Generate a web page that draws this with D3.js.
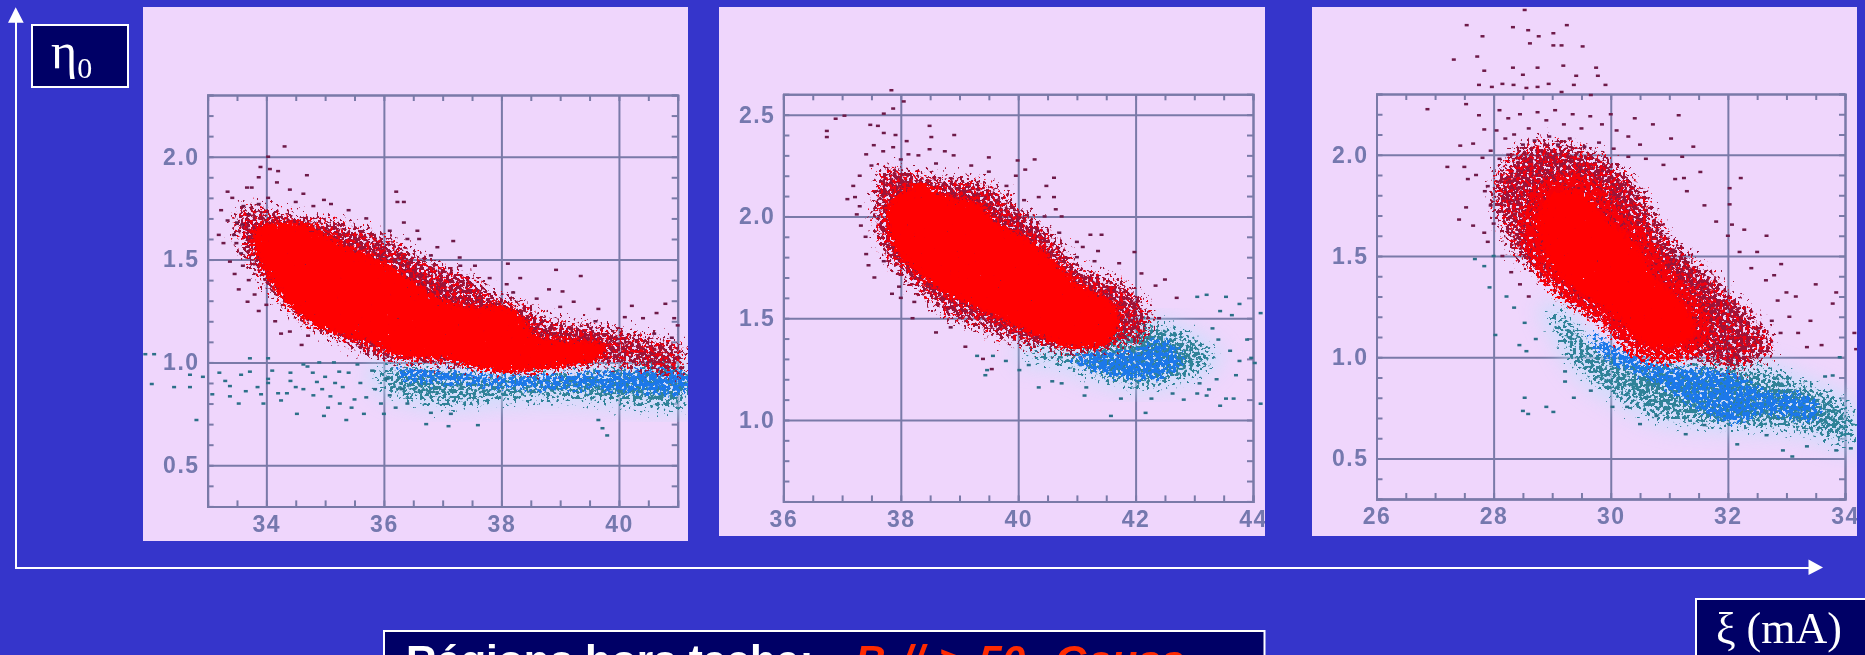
<!DOCTYPE html>
<html>
<head>
<meta charset="utf-8">
<script src="https://cdn.jsdelivr.net/npm/d3@7"></script>
<style>
  html, body { margin: 0; padding: 0; background: #3535cb; overflow: hidden; }
  svg { display: block; }
  text { white-space: pre; }
  .tick-label text { font-family: "Liberation Sans", sans-serif; font-weight: bold; font-size: 23px; letter-spacing: 1.5px; fill: #7478ae; }
</style>
</head>
<body>
<div id="chart"></div>
<script>
// values, x in mA, y is eta0
var p1XTicks = [34, 36, 38, 40];
var p1YTicks = [0.5, 1.0, 1.5, 2.0];
var p1RedCore = [[33.76,1.65],[34.18,1.68],[34.63,1.68],[35.09,1.615],[35.55,1.545],[36.0,1.49],[36.46,1.405],[36.91,1.32],[37.52,1.27],[38.0,1.285],[38.43,1.2],[38.58,1.13],[39.27,1.11],[39.8,1.085],[39.65,1.01],[38.9,0.975],[38.43,0.955],[37.83,0.955],[37.07,1.01],[36.3,1.025],[35.7,1.095],[35.24,1.13],[34.79,1.18],[34.4,1.27],[34.03,1.41],[33.8,1.545]];
var p1RedFringe = [[33.3,1.72],[33.61,1.79],[33.95,1.79],[34.48,1.745],[34.94,1.735],[35.47,1.7],[36.0,1.65],[36.53,1.56],[37.07,1.49],[37.6,1.44],[37.9,1.355],[38.43,1.32],[38.81,1.235],[39.42,1.225],[40.1,1.18],[41.18,1.095],[41.18,0.905],[40.1,0.955],[39.35,0.955],[38.5,0.93],[37.83,0.945],[37.07,0.955],[36.15,0.975],[35.55,1.025],[35.0,1.11],[34.63,1.165],[34.25,1.25],[33.8,1.39],[33.49,1.53],[33.34,1.63]];
var p1BlueBand = [[35.9,1.02],[36.3,1.0],[37,1.0],[38,0.96],[39,0.98],[40,1.0],[41.2,1.0],[41.2,0.76],[40,0.77],[39,0.79],[38,0.78],[37,0.76],[36.3,0.8],[35.9,0.85],[35.7,0.93]];
var p1BlueCore = [[36.2,0.99],[37,0.98],[38,0.96],[39,0.96],[40,0.98],[41.2,0.97],[41.2,0.84],[40.4,0.83],[39.5,0.85],[38.5,0.85],[37.5,0.87],[36.7,0.88],[36.2,0.91]];
var p1RedPoints = [[34.31,2.05],[34.03,2.0],[33.9,1.95],[34.06,1.94],[34.2,1.93],[34.69,1.91],[33.87,1.9],[34.18,1.875],[33.67,1.85],[33.34,1.83],[33.42,1.8],[33.75,1.85],[34.4,1.84],[34.63,1.82],[34.98,1.79],[34.03,1.8],[33.23,1.74],[33.61,1.76],[33.87,1.77],[33.34,1.69],[33.19,1.62],[33.27,1.58],[33.49,1.58],[33.57,1.53],[33.38,1.49],[33.46,1.43],[33.53,1.355],[33.68,1.295],[33.87,1.25],[34.25,1.14],[34.71,1.13],[34.6,1.085],[36.21,1.83],[36.34,1.78],[36.23,1.78],[36.34,1.68],[36.57,1.64],[36.6,1.6],[37.18,1.59],[36.91,1.56],[37.29,1.51],[37.55,1.47],[38.11,1.48],[38.93,1.45],[39.35,1.42],[38.32,1.41],[38.09,1.38],[38.81,1.355],[39.23,1.295],[39.04,1.345],[39.65,1.26],[40.22,1.275],[40.79,1.285],[40.64,1.24],[40.41,1.215],[40.94,1.215],[41.0,1.18]];
var p1RedEdge = [[33.6,1.67],[33.7,1.72],[33.5,1.68],[33.45,1.62],[33.6,1.47],[33.7,1.4],[33.8,1.33],[34.0,1.28],[34.15,1.2],[34.4,1.15],[34.5,1.78],[34.8,1.76],[35.1,1.77],[35.4,1.74],[35.7,1.7],[36.1,1.64],[36.4,1.6],[36.8,1.52],[37.3,1.47],[37.8,1.41],[38.2,1.34],[38.6,1.31],[39.0,1.27],[39.6,1.2],[40.1,1.22],[40.6,1.14],[40.9,1.12]];
var p1BluePoints = [[31.94,1.04],[32.09,1.04],[32.05,0.895],[32.43,0.88],[32.7,0.88],[32.81,0.72],[32.7,0.94],[32.92,0.93],[33.08,0.845],[33.3,0.91],[33.38,0.885],[33.57,0.94],[33.53,0.8],[33.38,0.835],[33.72,0.955],[33.72,1.02],[34.03,1.02],[34.03,0.92],[34.03,0.9],[33.91,0.845],[33.95,0.8],[34.2,0.85],[34.25,0.815],[34.52,0.75],[34.41,0.95],[34.63,0.99],[34.41,0.91],[34.79,0.95],[34.86,0.905],[34.63,0.87],[34.98,0.74],[35.36,0.72],[35.24,0.955],[35.17,0.9],[35.09,0.835],[35.05,0.78],[35.66,0.75],[36.0,0.75],[36.72,0.7],[37.1,0.69],[37.6,0.695],[37.14,0.75],[36.8,0.755],[39.72,0.68],[39.8,0.645],[39.65,0.72],[34.5,0.88],[34.7,0.98],[34.9,1.0],[35.0,0.93],[35.15,1.0],[35.3,0.88],[35.4,0.95],[35.5,0.82],[35.55,0.99],[35.6,0.9],[35.7,0.83],[35.8,0.96],[35.85,0.87],[35.95,0.8],[36.05,0.92],[36.1,0.84],[36.2,0.78],[36.3,0.87],[36.4,0.8],[34.8,0.84],[34.95,0.87],[35.25,0.8],[35.45,0.78],[34.35,0.85],[34.1,0.96],[33.85,0.88],[33.65,0.86],[33.2,0.95]];

var p2XTicks = [36, 38, 40, 42, 44];
var p2YTicks = [1.0, 1.5, 2.0, 2.5];
var p2RedCore = [[37.77,2.06],[38.03,2.13],[38.36,2.165],[38.82,2.095],[39.27,2.08],[39.66,1.97],[40.12,1.9],[40.64,1.78],[41.03,1.675],[41.49,1.605],[41.75,1.52],[41.55,1.375],[41.1,1.35],[40.77,1.36],[40.32,1.41],[39.79,1.48],[39.27,1.55],[38.75,1.62],[38.23,1.73],[37.84,1.87]];
var p2RedFringe = [[37.45,2.15],[37.58,2.28],[38.23,2.25],[38.75,2.22],[39.27,2.22],[39.73,2.15],[40.25,2.03],[40.77,1.9],[41.1,1.76],[41.49,1.745],[41.95,1.675],[42.34,1.55],[42.27,1.38],[41.75,1.33],[41.42,1.31],[40.77,1.31],[39.99,1.34],[39.4,1.41],[38.75,1.48],[38.1,1.64],[37.64,1.78],[37.45,1.94]];
var p2BlueBand = [[39.99,1.38],[41.1,1.38],[41.95,1.5],[42.5,1.5],[43.12,1.42],[43.5,1.32],[43.25,1.22],[42.6,1.15],[41.95,1.13],[41.3,1.18],[40.58,1.25],[40.05,1.27]];
var p2BlueCore = [[40.77,1.31],[41.3,1.36],[41.95,1.36],[42.4,1.42],[42.86,1.34],[42.79,1.24],[42.27,1.18],[41.49,1.2],[40.97,1.255]];
var p2RedPoints = [[37.84,2.62],[38.05,2.565],[37.87,2.53],[37.04,2.495],[36.89,2.48],[36.74,2.42],[36.74,2.39],[37.48,2.45],[37.71,2.505],[37.61,2.445],[37.71,2.41],[37.91,2.4],[38.1,2.37],[38.49,2.445],[38.52,2.39],[38.91,2.4],[37.54,2.35],[37.41,2.305],[37.87,2.34],[38.13,2.305],[38.49,2.33],[38.75,2.32],[39.5,2.29],[39.99,2.275],[40.28,2.28],[39.96,2.2],[40.12,2.23],[40.61,2.19],[40.48,2.15],[40.61,2.095],[40.35,2.095],[40.64,2.035],[40.74,2.0],[37.19,2.15],[37.22,2.095],[37.09,2.085],[37.25,2.01],[37.32,1.955],[37.41,1.815],[37.45,1.76],[37.71,1.78],[37.97,1.655],[38.0,1.6],[38.23,1.58],[38.85,1.455],[41.23,1.91],[41.42,1.91],[41.0,1.875],[41.36,1.83],[41.98,1.825],[41.72,1.77],[41.1,1.85],[42.5,1.69],[42.7,1.6],[42.34,1.66]];
var p2RedEdge = [[37.3,2.2],[37.5,2.25],[37.7,2.32],[38.0,2.28],[38.3,2.3],[38.6,2.26],[38.9,2.3],[39.2,2.25],[39.5,2.22],[39.8,2.15],[40.1,2.08],[40.45,2.0],[40.7,1.92],[41.0,1.8],[41.3,1.78],[37.3,2.05],[37.4,1.9],[37.55,1.7],[37.85,1.62],[38.2,1.5],[38.6,1.43],[39.1,1.36],[39.4,1.3],[39.55,1.25],[42.1,1.72],[42.4,1.5]];
var p2BluePoints = [[39.3,1.315],[39.57,1.315],[39.47,1.245],[39.44,1.22],[39.79,1.29],[40.18,1.27],[40.02,1.245],[40.35,1.16],[40.58,1.19],[40.74,1.18],[41.16,1.16],[41.13,1.12],[41.58,1.02],[42.17,1.035],[41.75,1.105],[42.27,1.105],[42.63,1.13],[42.82,1.1],[43.05,1.13],[43.21,1.12],[43.44,1.07],[43.54,1.105],[43.67,1.105],[44.13,1.08],[44.13,1.525],[43.77,1.57],[43.54,1.605],[43.21,1.615],[43.05,1.605],[43.64,1.515],[43.44,1.535],[43.31,1.45],[43.9,1.395],[43.61,1.34],[43.77,1.29],[44.03,1.28],[43.38,1.2],[43.71,1.22],[43.25,1.15],[43.09,1.18],[43.41,1.395],[43.97,1.305]];

var p3XTicks = [26, 28, 30, 32, 34];
var p3YTicks = [0.5, 1.0, 1.5, 2.0];
var p3RedCore = [[28.72,1.7],[28.97,1.81],[29.53,1.83],[29.91,1.7],[30.47,1.56],[30.78,1.4],[31.28,1.26],[31.47,1.12],[30.97,1.04],[30.47,1.07],[30.03,1.21],[29.53,1.3],[29.03,1.42],[28.78,1.56]];
var p3RedFringe = [[27.85,1.85],[28.3,2.05],[28.9,2.1],[29.72,2.05],[30.16,1.98],[30.6,1.85],[31.0,1.65],[31.5,1.5],[32.1,1.35],[32.6,1.2],[33.0,1.03],[32.66,0.98],[32.22,0.9],[31.41,0.965],[30.47,1.0],[29.84,1.14],[29.22,1.26],[28.84,1.35],[28.3,1.475],[28.0,1.67]];
var p3BlueBand = [[28.78,1.26],[29.28,1.25],[29.84,1.07],[30.78,1.0],[31.91,1.0],[32.66,0.98],[33.41,0.895],[34.2,0.77],[34.2,0.54],[33.29,0.6],[32.6,0.615],[31.72,0.63],[30.78,0.665],[30.03,0.77],[29.41,0.895],[29.03,1.07]];
var p3BlueCore = [[29.53,1.14],[30.16,1.07],[30.92,0.98],[32.03,0.95],[32.6,0.86],[33.54,0.81],[33.6,0.67],[32.66,0.7],[32.0,0.65],[31.22,0.77],[30.47,0.895],[29.84,0.98]];
var p3RedPoints = [[28.53,2.715],[27.54,2.64],[27.81,2.585],[28.33,2.63],[28.59,2.615],[28.77,2.585],[29.02,2.6],[29.25,2.64],[28.62,2.55],[29.02,2.54],[29.16,2.54],[29.52,2.535],[27.32,2.47],[27.72,2.485],[27.84,2.415],[28.33,2.43],[28.5,2.395],[28.75,2.43],[29.19,2.44],[29.75,2.43],[29.41,2.39],[29.78,2.39],[27.75,2.345],[27.97,2.335],[28.15,2.35],[28.34,2.345],[28.56,2.33],[28.75,2.335],[28.94,2.35],[29.37,2.345],[29.91,2.345],[29.16,2.31],[29.66,2.295],[27.53,2.25],[26.87,2.225],[27.75,2.195],[27.84,2.125],[27.43,2.045],[27.65,2.055],[27.21,1.94],[27.5,1.94],[27.56,1.88],[27.81,1.985],[27.9,1.845],[27.53,1.74],[27.41,1.68],[27.65,1.65],[27.84,1.615],[30.72,2.15],[31.03,2.08],[31.41,2.04],[31.22,1.99],[31.53,1.915],[31.25,1.885],[32.22,1.885],[32.03,1.835],[32.03,1.755],[32.07,1.655],[32.66,1.6],[32.28,1.63],[32.5,1.52],[32.91,1.46],[33.5,1.36],[33.85,1.32],[33.79,1.265],[33.41,1.18],[33.6,1.06],[34.16,1.12],[34.19,1.04],[33.16,1.3],[32.79,1.405],[33.0,1.32],[31.16,2.195],[30.41,2.18]];
var p3RedEdge = [[28.1,2.22],[28.25,2.18],[28.45,2.2],[28.6,2.13],[28.75,2.21],[28.9,2.17],[29.05,2.22],[29.2,2.15],[29.35,2.2],[29.5,2.13],[29.65,2.19],[29.85,2.15],[30.0,2.2],[30.1,2.12],[30.3,2.09],[30.5,2.05],[28.05,2.12],[28.2,2.08],[28.35,2.1],[28.5,2.05],[28.7,2.07],[28.95,2.09],[29.1,2.05],[29.3,2.08],[29.55,2.04],[29.8,2.06],[30.05,2.03],[30.3,1.99],[30.6,1.98],[30.9,1.95],[27.95,2.02],[28.1,1.98],[28.25,2.0],[27.7,1.9],[27.85,1.82],[27.95,1.75],[28.0,1.66],[27.9,1.57],[28.15,1.5],[28.3,1.42],[28.45,1.36],[28.6,1.3],[31.1,1.88],[31.3,1.82],[31.6,1.75],[31.8,1.67],[32.0,1.6],[32.2,1.52],[32.4,1.44],[32.65,1.38],[32.85,1.28],[33.05,1.2],[33.2,1.12],[33.35,1.05],[32.9,1.12],[32.75,1.18]];
var p3BluePoints = [[28.0,1.5],[27.84,1.45],[27.68,1.485],[27.93,1.345],[28.03,1.11],[28.44,1.06],[28.56,1.03],[28.53,0.8],[28.5,0.735],[28.59,0.72],[28.9,0.755],[29.02,0.73],[29.37,0.8],[28.22,1.3],[28.35,1.245],[28.53,1.17],[28.72,1.09],[29.22,0.93],[29.22,0.88],[29.66,0.835],[30.03,0.755],[30.28,0.755],[30.5,0.67],[30.78,0.71],[31.28,0.62],[31.6,0.665],[32.16,0.57],[32.66,0.615],[32.94,0.54],[33.1,0.51],[33.35,0.56],[33.85,0.54],[34.1,0.55],[33.79,0.91],[33.91,1.0],[33.66,0.905]];

var yLabel = "\u03b7";
var xLabel = "\u03be (mA)";
var noteWhite = "R\u00e9gions hors tache:";
var noteRed = "B // > 50  Gauss";

var panels = [
  { box: [143, 7, 688, 541], frame: [207.6, 95, 677.7, 506.4], xDom: [33, 41], yDom: [0.3, 2.3], xTicks: p1XTicks, yTicks: p1YTicks,
    core: p1RedCore, fringe: p1RedFringe, band: p1BlueBand, bandCore: p1BlueCore, red: p1RedPoints.concat(p1RedEdge), blue: p1BluePoints, halo: 12 },
  { box: [719, 7, 1265, 536], frame: [783.4, 94.3, 1253, 501.4], xDom: [36, 44], yDom: [0.6, 2.6], xTicks: p2XTicks, yTicks: p2YTicks,
    core: p2RedCore, fringe: p2RedFringe, band: p2BlueBand, bandCore: p2BlueCore, red: p2RedPoints.concat(p2RedEdge), blue: p2BluePoints, halo: 12 },
  { box: [1312, 7, 1857, 536], frame: [1376.5, 94, 1845, 499], xDom: [26, 34], yDom: [0.3, 2.3], xTicks: p3XTicks, yTicks: p3YTicks,
    core: p3RedCore, fringe: p3RedFringe, band: p3BlueBand, bandCore: p3BlueCore, red: p3RedPoints.concat(p3RedEdge), blue: p3BluePoints, halo: 40 }
];

var svg = d3.select("#chart").append("svg")
  .attr("width", 1865)
  .attr("height", 655);
var defs = svg.append("defs");

// the dense clouds are outlines dissolved into grains, the grain is only texture
var addGrain = function(id, color, blur, k3, seed) {
  var f = defs.append("filter").attr("id", id)
    .attr("filterUnits", "userSpaceOnUse")
    .attr("x", 0).attr("y", 0).attr("width", 1865).attr("height", 655)
    .attr("color-interpolation-filters", "sRGB");
  f.append("feTurbulence").attr("type", "fractalNoise").attr("baseFrequency", 0.3)
    .attr("numOctaves", 2).attr("seed", seed).attr("result", "noise");
  f.append("feColorMatrix").attr("in", "noise").attr("type", "matrix")
    .attr("values", "0 0 0 0 0  0 0 0 0 0  0 0 0 0 0  1 0 0 0 0").attr("result", "n");
  f.append("feGaussianBlur").attr("in", "SourceAlpha").attr("stdDeviation", blur).attr("result", "b");
  f.append("feComposite").attr("in", "n").attr("in2", "b").attr("operator", "arithmetic")
    .attr("k1", 0).attr("k2", 18).attr("k3", k3).attr("k4", -18).attr("result", "mask");
  f.append("feFlood").attr("flood-color", color).attr("result", "c");
  f.append("feComposite").attr("in", "c").attr("in2", "mask").attr("operator", "in");
};
addGrain("grainDarkRed", "#9c1438", 12, 11.5, 3);
addGrain("grainRed", "#ee0010", 10, 8.5, 8);
addGrain("grainRedDense", "#f60008", 7, 11, 21);
addGrain("grainCore", "#ff0000", 5, 15, 5);
addGrain("grainTeal", "#2f8298", 11, 10.5, 11);
addGrain("grainBlue", "#1c78ea", 6, 11, 14);
defs.append("filter").attr("id", "soft").append("feGaussianBlur").attr("stdDeviation", 0.6);
defs.append("filter").attr("id", "haloBlur").append("feGaussianBlur").attr("stdDeviation", 10);

var drawPanel = function(p, idx) {
  var clipId = "clip-" + idx;
  defs.append("clipPath").attr("id", clipId).append("rect")
    .attr("x", p.box[0]).attr("y", p.box[1])
    .attr("width", p.box[2] - p.box[0]).attr("height", p.box[3] - p.box[1]);

  var g = svg.append("g").attr("clip-path", "url(#" + clipId + ")");
  g.append("rect")
    .attr("x", p.box[0]).attr("y", p.box[1])
    .attr("width", p.box[2] - p.box[0]).attr("height", p.box[3] - p.box[1])
    .attr("fill", "#efd6fc");

  var x = d3.scaleLinear().domain(p.xDom).range([p.frame[0], p.frame[2]]);
  var y = d3.scaleLinear().domain(p.yDom).range([p.frame[3], p.frame[1]]);
  var w = p.frame[2] - p.frame[0];
  var h = p.frame[3] - p.frame[1];

  // minor ticks, inward on all four sides
  var xMinor = d3.range(p.xDom[0], p.xDom[1] + 0.01, 0.5);
  var yMinor = d3.range(p.yDom[0], p.yDom[1] + 0.01, 0.1);
  var axes = g.append("g").attr("class", "axes").attr("filter", "url(#soft)");
  axes.append("g").attr("transform", "translate(0," + p.frame[3] + ")").call(d3.axisBottom(x).tickValues(xMinor).tickSize(-6).tickFormat(""));
  axes.append("g").attr("transform", "translate(0," + p.frame[1] + ")").call(d3.axisTop(x).tickValues(xMinor).tickSize(-6).tickFormat(""));
  axes.append("g").attr("transform", "translate(" + p.frame[0] + ",0)").call(d3.axisLeft(y).tickValues(yMinor).tickSize(-6).tickFormat(""));
  axes.append("g").attr("transform", "translate(" + p.frame[2] + ",0)").call(d3.axisRight(y).tickValues(yMinor).tickSize(-6).tickFormat(""));

  // grid
  axes.append("g").attr("transform", "translate(0," + p.frame[3] + ")").call(d3.axisBottom(x).tickValues(p.xTicks.filter(function(t) { return t > p.xDom[0] && t < p.xDom[1]; })).tickSize(-h).tickFormat(""));
  axes.append("g").attr("transform", "translate(" + p.frame[0] + ",0)").call(d3.axisLeft(y).tickValues(p.yTicks).tickSize(-w).tickFormat(""));
  axes.selectAll(".domain").attr("stroke", "#7a7aa8").attr("stroke-width", 2);
  axes.selectAll(".tick line").attr("stroke", "#7a7aa8").attr("stroke-width", 2);

  // tick labels
  var labels = g.append("g").attr("filter", "url(#soft)");
  labels.append("g").attr("class", "tick-label").attr("transform", "translate(0," + p.frame[3] + ")")
    .call(d3.axisBottom(x).tickValues(p.xTicks).tickSize(0).tickPadding(9).tickFormat(d3.format("d")));
  labels.append("g").attr("class", "tick-label").attr("transform", "translate(" + p.frame[0] + ",0)")
    .call(d3.axisLeft(y).tickValues(p.yTicks).tickSize(0).tickPadding(8).tickFormat(d3.format(".1f")));
  labels.selectAll(".domain").remove();

  // clouds, blue goes under red
  var outline = d3.line().x(function(d) { return x(d[0]); }).y(function(d) { return y(d[1]); })
    .curve(d3.curveCatmullRomClosed);

  g.append("path").attr("d", outline(p.band)).attr("fill", "#b8e2fb").attr("opacity", 0.55).attr("filter", "url(#haloBlur)");
  g.append("path").attr("d", outline(p.band)).attr("fill", "#000").attr("filter", "url(#grainTeal)");
  g.append("path").attr("d", outline(p.bandCore)).attr("fill", "#000").attr("filter", "url(#grainBlue)");

  g.selectAll(".pt-blue").data(p.blue).enter().append("rect")
    .attr("class", "pt-blue")
    .attr("x", function(d) { return x(d[0]) - 2; })
    .attr("y", function(d) { return y(d[1]) - 1.25; })
    .attr("width", 4).attr("height", 2.5)
    .attr("fill", "#2b6f88");

  g.append("path").attr("d", outline(p.fringe)).attr("fill", "#000").attr("filter", "url(#grainDarkRed)");
  g.append("path").attr("d", outline(p.fringe)).attr("fill", "#000").attr("filter", "url(#grainRed)");
  g.append("path").attr("d", outline(p.core)).attr("fill", "#000").attr("stroke", "#000")
    .attr("stroke-width", p.halo).attr("stroke-linejoin", "round").attr("filter", "url(#grainRedDense)");
  g.append("path").attr("d", outline(p.core)).attr("fill", "#000").attr("filter", "url(#grainCore)");

  g.selectAll(".pt-red").data(p.red).enter().append("rect")
    .attr("class", "pt-red")
    .attr("x", function(d) { return x(d[0]) - 2; })
    .attr("y", function(d) { return y(d[1]) - 1.25; })
    .attr("width", 4).attr("height", 2.5)
    .attr("fill", "#6e1a48");
};

panels.forEach(drawPanel);

// big axes
svg.append("line").attr("x1", 16).attr("y1", 20).attr("x2", 16).attr("y2", 568).attr("stroke", "#fff").attr("stroke-width", 2);
svg.append("line").attr("x1", 15).attr("y1", 568).attr("x2", 1810).attr("y2", 568).attr("stroke", "#fff").attr("stroke-width", 2);
svg.append("path").attr("d", d3.line()([[15.7, 7.3], [23.7, 22.7], [8, 22.7]]) + "Z").attr("fill", "#fff");
svg.append("path").attr("d", d3.line()([[1823, 567.5], [1808.5, 559.5], [1808.5, 575]]) + "Z").attr("fill", "#fff");

// boxes
var addBox = function(x0, y0, x1, y1) {
  svg.append("rect").attr("x", x0).attr("y", y0).attr("width", x1 - x0).attr("height", y1 - y0)
    .attr("fill", "#000066").attr("stroke", "#fff").attr("stroke-width", 2);
};
addBox(32, 25, 128, 87);
addBox(1696, 599, 1880, 680);
addBox(384, 631, 1264.5, 690);

var etaText = svg.append("text").attr("x", 51).attr("y", 68)
  .attr("font-family", "'Liberation Serif', serif").attr("font-size", 50).attr("fill", "#fff");
etaText.append("tspan").text(yLabel);
etaText.append("tspan").attr("dy", 10).attr("font-size", 30).text("0");

svg.append("text").attr("x", 1716).attr("y", 643)
  .attr("font-family", "'Liberation Serif', serif").attr("font-size", 44).attr("fill", "#fff").text(xLabel);

svg.append("text").attr("x", 406).attr("y", 675)
  .attr("font-family", "'Liberation Sans', sans-serif").attr("font-weight", "bold").attr("font-size", 42.4).attr("fill", "#fff").text(noteWhite);
svg.append("text").attr("x", 855).attr("y", 675).attr("word-spacing", 3)
  .attr("font-family", "'Liberation Sans', sans-serif").attr("font-weight", "bold").attr("font-style", "italic").attr("font-size", 42.4).attr("fill", "#ff2a00").text(noteRed);
</script>
</body>
</html>
